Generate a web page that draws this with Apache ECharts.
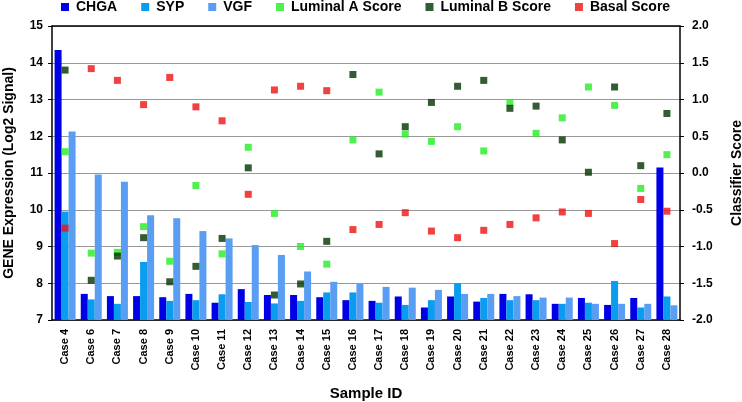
<!DOCTYPE html>
<html><head><meta charset="utf-8">
<script src="https://cdn.jsdelivr.net/npm/echarts@6/dist/echarts.min.js"></script>
<style>html,body{margin:0;padding:0;background:#fff}#c{width:742px;height:402px}</style>
</head><body><div id="c"></div>
<script>
var categories = ['Case 4','Case 6','Case 7','Case 8','Case 9','Case 10','Case 11','Case 12','Case 13','Case 14','Case 15','Case 16','Case 17','Case 18','Case 19','Case 20','Case 21','Case 22','Case 23','Case 24','Case 25','Case 26','Case 27','Case 28'];
var chga = [14.35,7.71,7.65,7.65,7.62,7.71,7.47,7.84,7.68,7.68,7.62,7.54,7.52,7.64,7.34,7.64,7.50,7.71,7.70,7.44,7.60,7.41,7.60,11.15];
var syp  = [9.95,7.56,7.44,8.58,7.52,7.54,7.70,7.49,7.45,7.52,7.75,7.75,7.47,7.41,7.54,8.00,7.60,7.54,7.54,7.44,7.47,8.06,7.34,7.64];
var vgf  = [12.13,10.96,10.76,9.85,9.77,9.42,9.22,9.04,8.77,8.32,8.04,8.00,7.90,7.88,7.82,7.71,7.71,7.65,7.61,7.61,7.44,7.44,7.44,7.40];
var lumA = [0.29,-1.09,-1.08,-0.73,-1.20,-0.17,-1.10,0.35,-0.55,-1.00,-1.24,0.45,1.10,0.53,0.43,0.63,0.30,0.96,0.54,0.75,1.17,0.92,-0.21,0.25];
var lumB = [1.40,-1.46,-1.13,-0.88,-1.48,-1.27,-0.89,0.07,-1.66,-1.51,-0.93,1.34,0.26,0.63,0.96,1.18,1.26,0.88,0.91,0.45,0.01,1.17,0.10,0.81];
var basal = [-0.75,1.42,1.26,0.93,1.30,0.90,0.71,-0.29,1.13,1.18,1.12,-0.77,-0.70,-0.54,-0.79,-0.88,-0.78,-0.70,-0.61,-0.53,-0.55,-0.96,-0.36,-0.52];

var F = 'Liberation Sans, Arial, sans-serif';
var chart = echarts.init(document.getElementById('c'));
function bar(name, data, color){
  return {name:name,type:'bar',data:data,yAxisIndex:0,barWidth:7,barGap:'0%',itemStyle:{color:color},animation:false};
}
function sc(name, data, color){
  return {name:name,type:'scatter',data:data,yAxisIndex:1,symbol:'rect',symbolSize:7,itemStyle:{color:color},animation:false,z:5};
}
chart.setOption({
  backgroundColor:'#fff',
  animation:false,
  legend:{top:0,left:56,icon:'rect',itemWidth:8,itemHeight:8,itemGap:24,padding:[0,5,5,5],
    textStyle:{fontFamily:F,fontWeight:'bold',fontSize:14,color:'#000',padding:[0,0,0,2]},
    data:['CHGA','SYP','VGF','Luminal A Score','Luminal B Score','Basal Score']},
  grid:{left:52,right:62,top:26,bottom:82,containLabel:false,outerBoundsMode:'none'},
  xAxis:[{type:'category',data:categories,position:'bottom',
    axisLine:{onZero:false,lineStyle:{color:'#000',width:1.5}},axisTick:{show:false},
    axisLabel:{rotate:90,interval:0,fontFamily:F,fontWeight:'bold',fontSize:11,color:'#000',margin:9},
    name:'Sample ID',nameLocation:'middle',nameGap:66,
    nameTextStyle:{fontFamily:F,fontWeight:'bold',fontSize:15,color:'#000'}},
    {type:'category',data:categories,position:'top',
    axisLine:{onZero:false,lineStyle:{color:'#000',width:1.5}},axisTick:{show:false},axisLabel:{show:false}}],
  yAxis:[{type:'value',min:7,max:15,interval:1,position:'left',
    axisLine:{show:true,onZero:false,lineStyle:{color:'#000',width:1.5}},axisTick:{show:true,length:4,lineStyle:{color:'#000'}},
    axisLabel:{fontFamily:F,fontWeight:'bold',fontSize:12,color:'#000',margin:9},
    splitLine:{show:true,lineStyle:{color:'#999',width:1.2}},
    name:'GENE Expression (Log2 Signal)',nameLocation:'middle',nameGap:36,
    nameTextStyle:{fontFamily:F,fontWeight:'bold',fontSize:14,color:'#000'}},
    {type:'value',min:-2,max:2,interval:0.5,position:'right',
    axisLine:{show:true,onZero:false,lineStyle:{color:'#000',width:1.5}},axisTick:{show:true,length:4,lineStyle:{color:'#000'}},
    axisLabel:{fontFamily:F,fontWeight:'bold',fontSize:12,color:'#000',margin:12,formatter:function(v){return v.toFixed(1);}},
    splitLine:{show:false},
    name:'Classifier Score',nameLocation:'middle',nameGap:50,nameRotate:90,
    nameTextStyle:{fontFamily:F,fontWeight:'bold',fontSize:14,color:'#000'}}],
  series:[
    bar('CHGA',chga,'#0000e6'),
    bar('SYP',syp,'#0a9cee'),
    bar('VGF',vgf,'#5a9ef4'),
    sc('Luminal A Score',lumA,'#22ee22'),
    sc('Luminal B Score',lumB,'#003300'),
    sc('Basal Score',basal,'#ee1111')
  ]
});
</script></body></html>
